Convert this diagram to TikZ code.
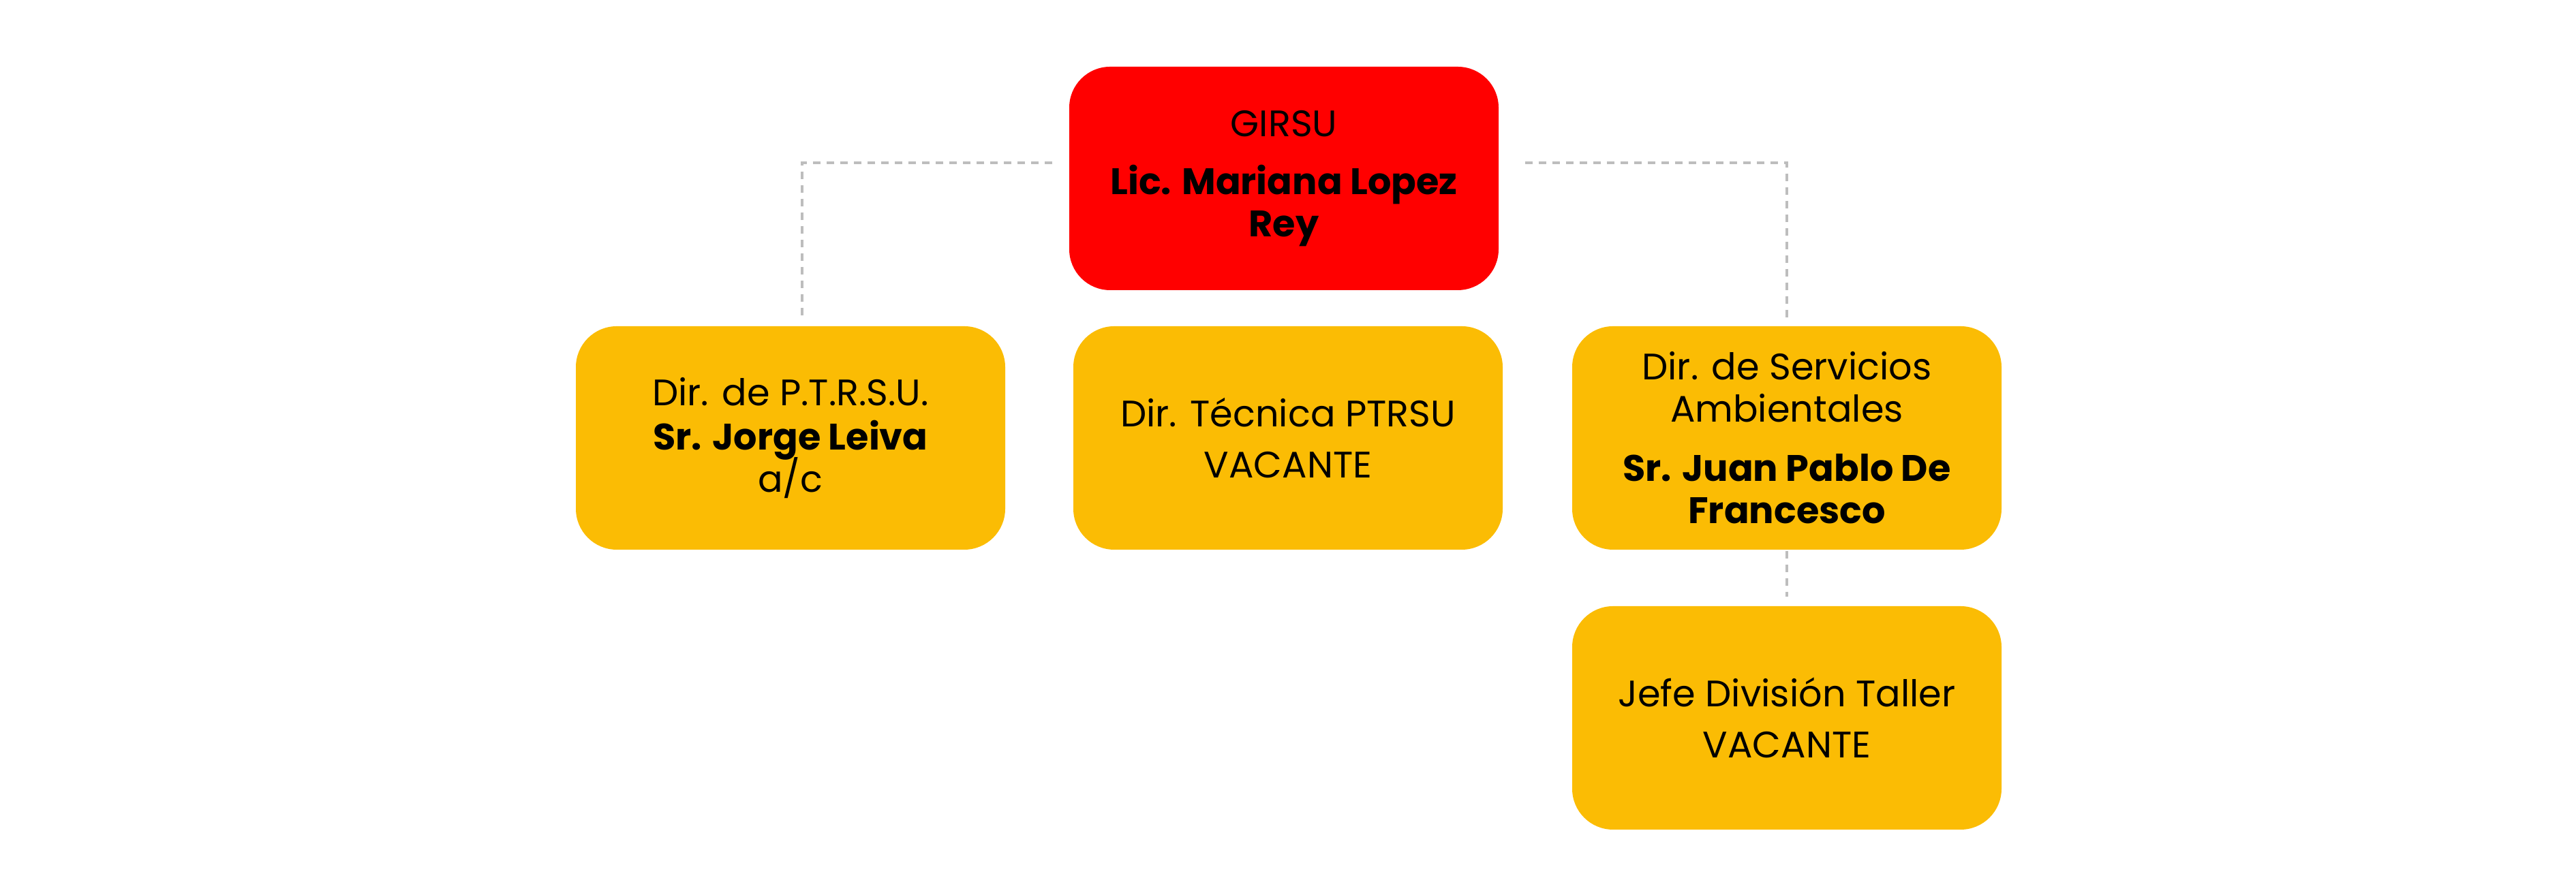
\documentclass[tikz,border=0pt]{standalone}
\usepackage{fontspec}
\setmainfont{Poppins}
\usetikzlibrary{positioning}
\definecolor{girsured}{HTML}{FF0000}
\definecolor{diryellow}{HTML}{FBBC04}
\definecolor{linkgray}{HTML}{BDBDBD}

\begin{document}
\begin{tikzpicture}
[line width=1pt,
head/.style={rectangle, rounded corners=6mm, fill=girsured, minimum width=6.3cm, minimum height=3.28cm, inner sep=0pt, align=center, font=\fontsize{15.4}{17.6}\selectfont},
unit/.style={head, fill=diryellow},
link/.style={draw=linkgray, line width=1.1pt, dash pattern=on 1.1mm off 0.9mm}]

\useasboundingbox (0,0) rectangle (37.8,13.14);

\node[head] (girsu) at (18.84,10.52) {GIRSU\\[6.6pt] {\bfseries Lic. Mariana Lopez}\\{\bfseries Rey}};

\node[unit] (ptrsu) at (11.60,6.71) {Dir. de P.T.R.S.U.\\[1pt] {\bfseries Sr. Jorge Leiva}\\[-2pt] a/c};
\node[unit] (tecnica) at (18.90,6.71) {Dir. Técnica PTRSU\\[3.7pt] VACANTE};
\node[unit] (servicios) at (26.22,6.71) {Dir. de Servicios\\Ambientales\\[7.2pt] {\bfseries Sr. Juan Pablo De}\\{\bfseries Francesco}};
\node[unit] (taller) at (26.22,2.60) {Jefe División Taller\\[3.7pt] VACANTE};

\draw[link] ([xshift=-2.3mm,yshift=2.3mm]girsu.west) -| ([xshift=1.7mm,yshift=0.6mm]ptrsu.north);
\draw[link] ([xshift=3.7mm,yshift=2.3mm]girsu.east) -| ([yshift=0.6mm]servicios.north);
\draw[link] (servicios.south) -- ([yshift=1.2mm]taller.north);

\end{tikzpicture}
\end{document}
